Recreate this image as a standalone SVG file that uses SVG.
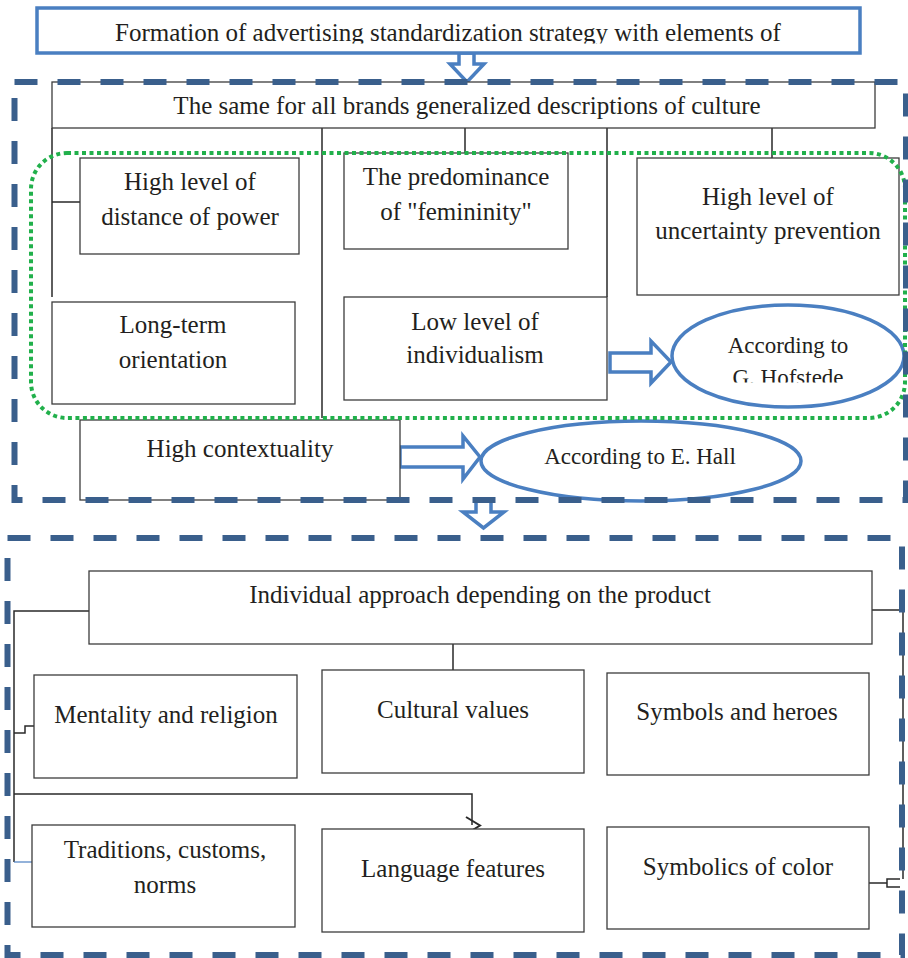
<svg xmlns="http://www.w3.org/2000/svg" width="908" height="958" viewBox="0 0 908 958">
<style>
.t{font-family:"Liberation Serif","Times New Roman",serif;font-size:25px;fill:#231f20;text-anchor:middle}
.e{font-size:23px}
.bx{fill:#fff;stroke:#3c3c3c;stroke-width:1.3}
.ln{fill:none;stroke:#2a2a2a;stroke-width:1.5}
.blue{fill:#fff;stroke:#4a7fc1;stroke-width:3.5}
.dash{fill:none;stroke:#3a5f8c;stroke-width:6;stroke-dasharray:23 20}
.dot{fill:none;stroke:#21b04b;stroke-width:4;stroke-dasharray:4 3.5}
</style>
<defs>
<clipPath id="c1"><rect x="0" y="0" width="908" height="43.5"/></clipPath>
<clipPath id="c2"><rect x="600" y="300" width="308" height="82.5"/></clipPath>
</defs>
<rect width="908" height="958" fill="#fff"/>

<g id="connectors">
<path class="ln" d="M52,128 V297 M52,202 H80 M322,128 V418 M465,128 V153 M607,128 V297 M772,128 V158"/>
<path class="ln" d="M89,611 H14 V862 M14,733 H25 V726 H34 M14,794 H472 V825 M453,644 V670 M872,610 H903 V879 M869,883 H887 M900,879 H887 V887 H900"/>
<path d="M466,817 L480,825.5 L466,834" fill="none" stroke="#2a2a2a" stroke-width="2"/>
<path d="M14,862 H37" fill="none" stroke="#4a7fc1" stroke-width="1.2"/>
<path id="arr-top" class="blue" stroke-width="3" d="M459,53 V64 H450 L467,82 L484,64 H474 V53 Z"/>
<path id="arr-mid" class="blue" stroke-width="3" d="M476,501 V512 H463 L483.5,528 L504,512 H491 V501 Z"/>
<path id="arr-hof" class="blue" stroke-width="3" d="M610,353 H651 V341 L671,362 L651,383 V372 H610 Z"/>
<path id="arr-hall" class="blue" stroke-width="3" d="M400,447 H463 V436 L480,457 L463,479 V467 H400 Z"/>
</g>

<g id="title">
<rect class="blue" x="37" y="8" width="823" height="45"/>
<text class="t" x="448" y="40.5" clip-path="url(#c1)">Formation of advertising standardization strategy with elements of</text>
</g>

<g id="same">
<rect class="bx" x="52" y="82" width="823" height="46"/>
<text class="t" x="467" y="114">The same for all brands generalized descriptions of culture</text>
</g>

<g id="power">
<rect class="bx" x="80" y="158" width="219" height="96"/>
<text class="t" x="190" y="190">High level of</text>
<text class="t" x="190" y="225">distance of power</text>
</g>
<g id="longterm">
<rect class="bx" x="52" y="302" width="243" height="102"/>
<text class="t" x="173" y="333">Long-term</text>
<text class="t" x="173" y="368">orientation</text>
</g>
<g id="femininity">
<rect class="bx" x="344" y="153" width="224" height="96"/>
<text class="t" x="456" y="185">The predominance</text>
<text class="t" x="456" y="220">of "femininity"</text>
</g>
<g id="individualism">
<rect class="bx" x="344" y="297" width="263" height="103"/>
<text class="t" x="475" y="330">Low level of</text>
<text class="t" x="475" y="363">individualism</text>
</g>
<g id="uncertainty">
<rect class="bx" x="637" y="158" width="262" height="137"/>
<text class="t" x="768" y="205">High level of</text>
<text class="t" x="768" y="239">uncertainty prevention</text>
</g>
<g id="context">
<rect class="bx" x="80" y="420" width="320" height="80"/>
<text class="t" x="240" y="457">High contextuality</text>
</g>

<g id="hofstede">
<ellipse class="blue" cx="788" cy="356" rx="116" ry="51"/>
<text class="t e" x="788" y="353">According to</text>
<text class="t e" x="788" y="385" clip-path="url(#c2)">G. Hofstede</text>
</g>
<g id="hall">
<ellipse class="blue" cx="641" cy="461" rx="160" ry="40"/>
<text class="t e" x="640" y="464">According to E. Hall</text>
</g>

<g id="hofstede-group">
<rect class="dot" x="31" y="153" width="874" height="265" rx="36"/>
</g>

<g id="approach">
<rect class="bx" x="89" y="571" width="783" height="73"/>
<text class="t" x="480" y="603">Individual approach depending on the product</text>
</g>
<g id="mentality">
<rect class="bx" x="34" y="675" width="263" height="103"/>
<text class="t" x="166" y="723">Mentality and religion</text>
</g>
<g id="values">
<rect class="bx" x="322" y="670" width="262" height="103"/>
<text class="t" x="453" y="718">Cultural values</text>
</g>
<g id="heroes">
<rect class="bx" x="607" y="673" width="262" height="102"/>
<text class="t" x="737" y="720">Symbols and heroes</text>
</g>
<g id="traditions">
<rect class="bx" x="32" y="825" width="263" height="102"/>
<text class="t" x="165" y="858">Traditions, customs,</text>
<text class="t" x="165" y="893">norms</text>
</g>
<g id="language">
<rect class="bx" x="322" y="829" width="262" height="103"/>
<text class="t" x="453" y="877">Language features</text>
</g>
<g id="color">
<rect class="bx" x="607" y="827" width="262" height="102"/>
<text class="t" x="738" y="875">Symbolics of color</text>
</g>

<g id="frames">
<rect class="dash" x="14.5" y="82" width="891.5" height="418"/>
<rect class="dash" x="7.5" y="538" width="894.5" height="417"/>
</g>
</svg>
